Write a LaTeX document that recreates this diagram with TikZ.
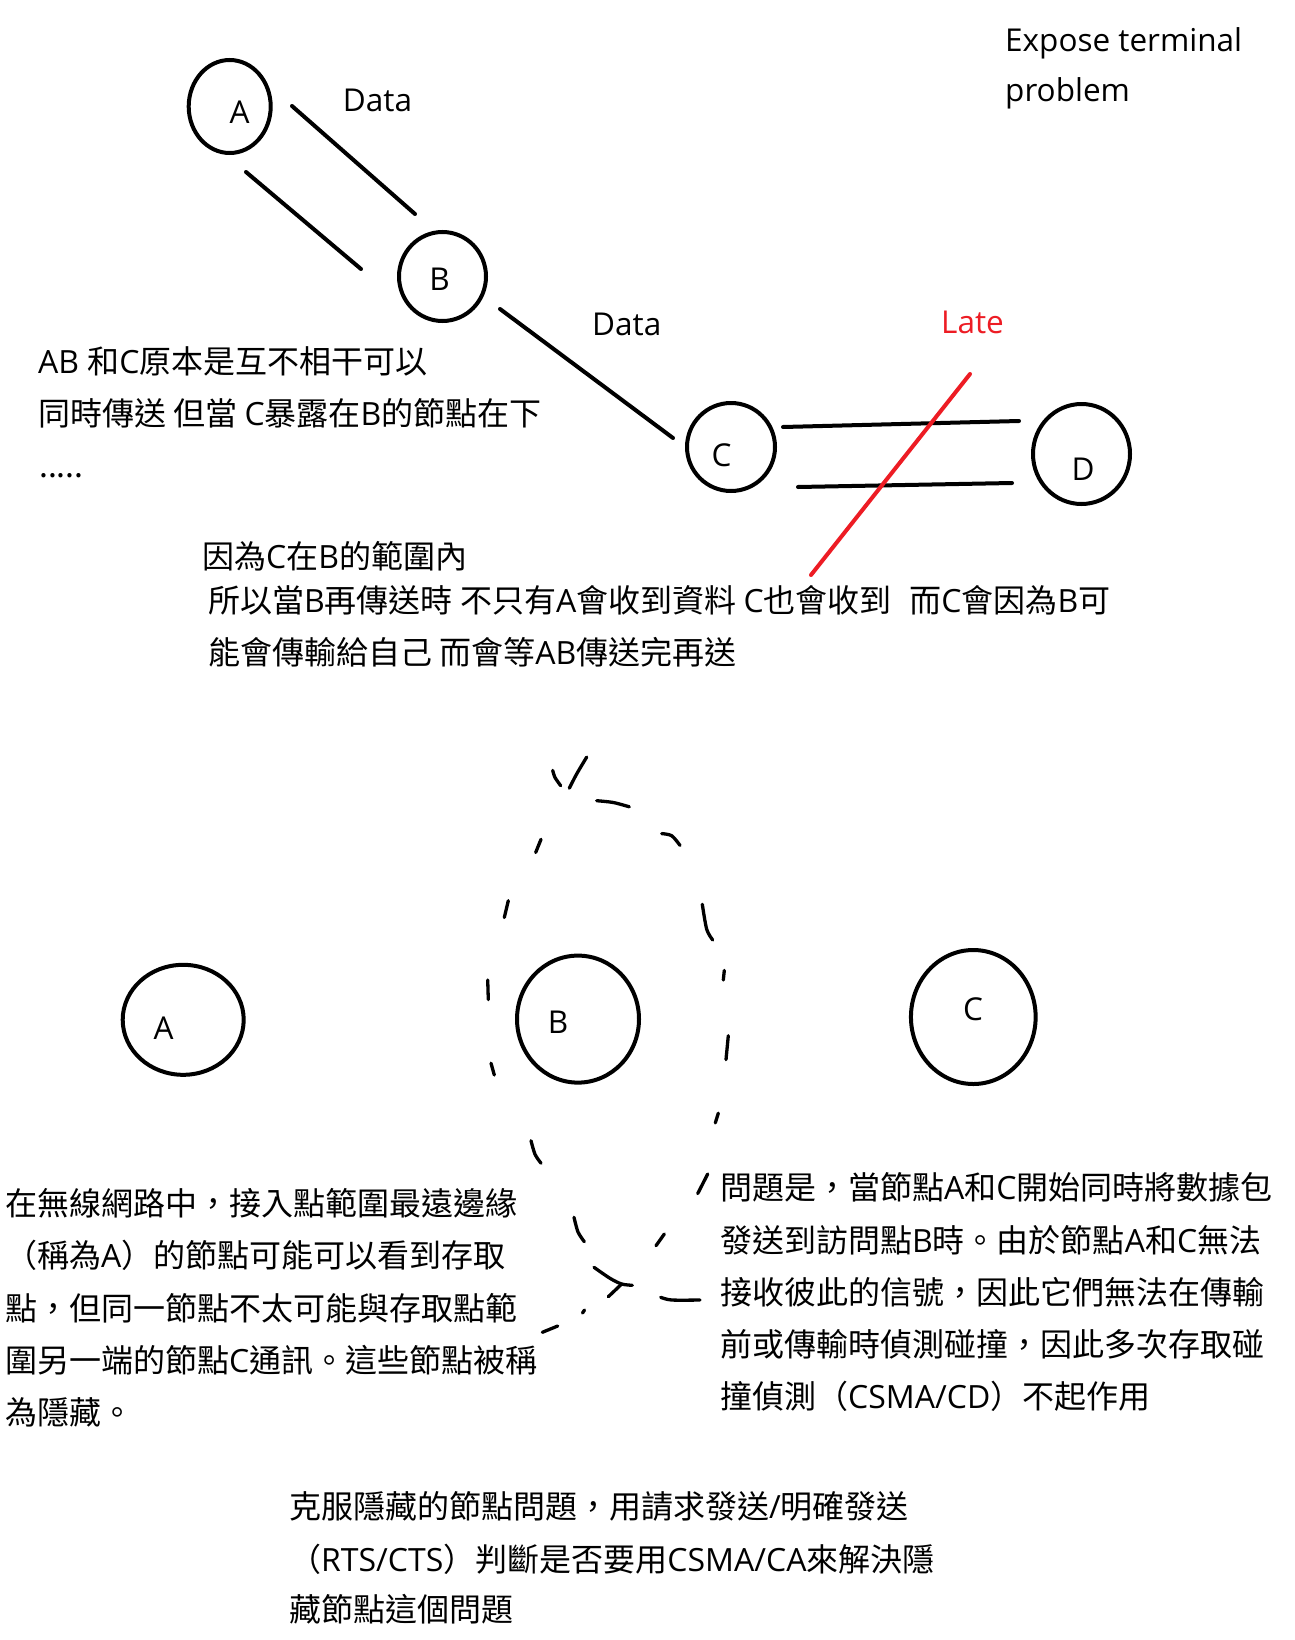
\documentclass[tikz,border=0pt]{standalone}
\usepackage{fontspec}
\setmainfont{Noto Sans CJK TC}
\newfontfamily\latf{Open Sans}
\usetikzlibrary{shapes.geometric}
\newcommand\LT[1]{{\latf #1}}
\definecolor{paintred}{RGB}{237,28,36}
\begin{document}
\begin{tikzpicture}[x=1pt,y=-1pt,
  ring/.style={draw, ellipse, line width=4pt, inner sep=0pt},
  lbl/.style={font=\latf\fontsize{31.5}{40}\selectfont, anchor=base, inner sep=0pt},
  txt/.style={font=\fontsize{32}{52}\selectfont, anchor=base west, inner sep=0pt},
  ltxt/.style={font=\latf\fontsize{31.5}{52}\selectfont, anchor=base west, inner sep=0pt},
  link/.style={line width=4pt, line cap=round},
  dsh/.style={line width=3.3pt, line cap=round, line join=round}]
\fill[white] (0,0) rectangle (1294,1640);
\useasboundingbox (0,0) rectangle (1294,1640);

% ---------- top: exposed terminal ----------
\node[ring, minimum width=82pt, minimum height=93pt] (tA) at (229.7,106.5) {};
\node[ring, minimum width=87pt, minimum height=89pt] (tB) at (442.5,276.5) {};
\node[ring, minimum width=88pt, minimum height=88pt] (tC) at (731,447) {};
\node[ring, minimum width=97pt, minimum height=100pt] (tD) at (1081.5,454) {};
\node[lbl] (tAl) at (239.5,124) {A};
\node[lbl] (tBl) at (439.5,290) {B};
\node[lbl] (tCl) at (721.5,466) {C};
\node[lbl] (tDl) at (1083,480) {D};

\coordinate (ab1s) at (292,106);  \coordinate (ab1e) at (415,214);
\coordinate (ab2s) at (246,172);  \coordinate (ab2e) at (361,269);
\coordinate (bcs) at (500,309);   \coordinate (bce) at (673,438);
\coordinate (cd1s) at (783,427);  \coordinate (cd1e) at (1019,421);
\coordinate (cd2s) at (798,487);  \coordinate (cd2e) at (1012,483);
\coordinate (xs) at (970,374);    \coordinate (xe) at (811,575);
\draw[link] (ab1s) -- (ab1e);
\draw[link] (ab2s) -- (ab2e);
\draw[link] (bcs) -- (bce);
\draw[link] (cd1s) -- (cd1e);
\draw[link] (cd2s) -- (cd2e);
\draw[link, paintred] (xs) -- (xe);

\node[ltxt] (data1) at (342.7,111.7) {Data};
\node[ltxt] (data2) at (592,335) {Data};
\node[ltxt, text=paintred] (late) at (941,333) {Late};
\node[ltxt] (exp1) at (1005,52) {Expose terminal};
\node[ltxt] (exp2) at (1005,102) {problem};

\node[txt] (p1a) at (38,373) {\LT{AB }和\LT{C}原本是互不相干可以};
\node[txt] (p1b) at (38,425) {同時傳送 但當 \LT{C}暴露在\LT{B}的節點在下};
\node[txt] (p1c) at (39,477) {.....};

\node[txt] (p2a) at (202,568) {因為\LT{C}在\LT{B}的範圍內};
\node[txt] (p2b) at (208,612) {所以當\LT{B}再傳送時 不只有\LT{A}會收到資料 \LT{C}也會收到\hspace{0.55em}而\LT{C}會因為\LT{B}可};
\node[txt] (p2c) at (208,664) {能會傳輸給自己 而會等\LT{AB}傳送完再送};

% ---------- bottom: hidden terminal ----------
\node[ring, minimum width=121pt, minimum height=110pt] (bA) at (183.2,1019.8) {};
\node[ring, minimum width=122pt, minimum height=127pt] (bB) at (578,1019.1) {};
\node[ring, minimum width=124.7pt, minimum height=134pt] (bC) at (973.3,1017) {};
\node[lbl] (bAl) at (163.5,1039) {A};
\node[lbl] (bBl) at (558,1033.6) {B};
\node[lbl] (bCl) at (973,1020) {C};

% hand-drawn dashed range of B
\draw[dsh] plot[smooth] coordinates {(552.7,770.4) (555,777.5) (560.7,785.7)};
\draw[dsh] plot[smooth] coordinates {(586.7,757.1) (576.7,773.9) (569.3,788.2)};
\draw[dsh] plot[smooth] coordinates {(596.7,800.7) (613.3,802.5) (629.3,806.8)};
\draw[dsh] plot[smooth] coordinates {(661.7,833.6) (671.7,835.7) (680,845.4)};
\draw[dsh] (541,839.3) -- (535.7,852.5);
\draw[dsh] (508.3,900.7) -- (504.3,917.5);
\draw[dsh] plot[smooth] coordinates {(702.3,904.3) (706.7,929.3) (712.7,940)};
\draw[dsh] (724.3,970.4) -- (723.3,980);
\draw[dsh] (487.7,980) -- (488.3,999.6);
\draw[dsh] (728.3,1035.7) -- (726,1059.6);
\draw[dsh] (491,1063.2) -- (494.3,1075);
\draw[dsh] (718.3,1113.2) -- (715.3,1122.9);
\draw[dsh] plot[smooth] coordinates {(531,1140.7) (535,1154.3) (541,1163.2)};
\draw[dsh] (707.7,1174) -- (697.7,1193.6);
\draw[dsh] plot[smooth] coordinates {(574,1217.3) (578,1232) (584.3,1241.7)};
\draw[dsh] (664.3,1234) -- (656,1245.7);
\draw[dsh] plot[smooth] coordinates {(594,1267.3) (610,1278.3) (621.7,1284) (632.3,1285.3)};
\draw[dsh] (621.7,1284) -- (608.3,1296.7);
\draw[dsh] plot[smooth] coordinates {(660.7,1297.3) (671.7,1300) (700,1300)};
\draw[dsh] (582.5,1313) -- (584.5,1310);
\draw[dsh] (542.3,1332.3) -- (557.7,1326);

\node[txt] (p3a) at (5,1215) {在無線網路中，接入點範圍最遠邊緣};
\node[txt] (p3b) at (5,1267) {（稱為\LT{A}）的節點可能可以看到存取};
\node[txt] (p3c) at (5,1320) {點，但同一節點不太可能與存取點範};
\node[txt] (p3d) at (5,1372) {圍另一端的節點\LT{C}通訊。這些節點被稱};
\node[txt] (p3e) at (5,1424) {為隱藏。};

\node[txt] (p4a) at (720,1199) {問題是，當節點\LT{A}和\LT{C}開始同時將數據包};
\node[txt] (p4b) at (720,1252) {發送到訪問點\LT{B}時。由於節點\LT{A}和\LT{C}無法};
\node[txt] (p4c) at (720,1304) {接收彼此的信號，因此它們無法在傳輸};
\node[txt] (p4d) at (720,1356) {前或傳輸時偵測碰撞，因此多次存取碰};
\node[txt] (p4e) at (720,1408) {撞偵測（\LT{CSMA/CD}）不起作用};

\node[txt] (p5a) at (289,1518) {克服隱藏的節點問題，用請求發送\LT{/}明確發送};
\node[txt] (p5b) at (289,1571) {（\LT{RTS/CTS}）判斷是否要用\LT{CSMA/CA}來解決隱};
\node[txt] (p5c) at (289,1621) {藏節點這個問題};
\end{tikzpicture}
\end{document}
